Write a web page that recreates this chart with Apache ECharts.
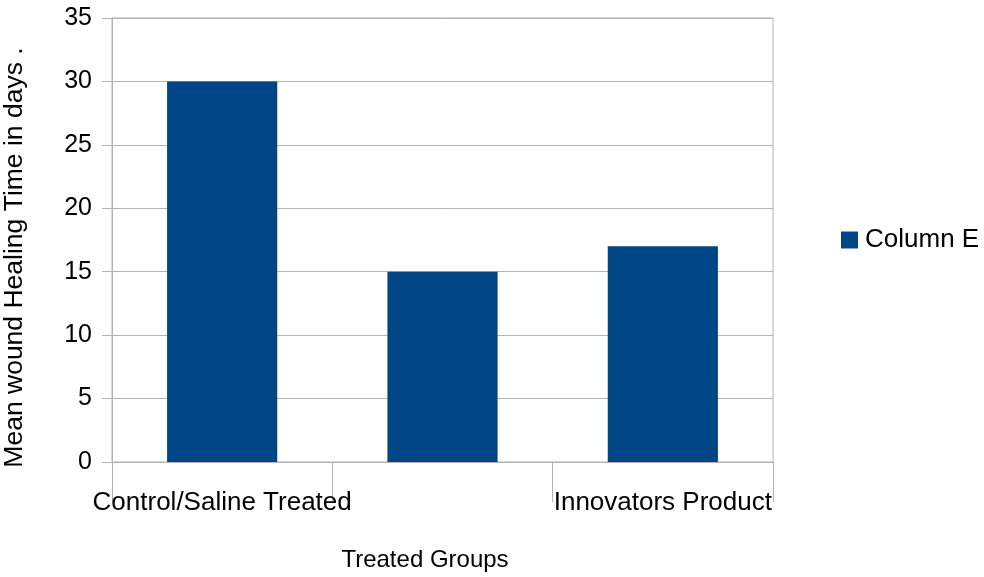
<!DOCTYPE html>
<html>
<head>
<meta charset="utf-8">
<script src="https://cdn.jsdelivr.net/npm/echarts@6/dist/echarts.min.js"></script>
<style>
  html, body { margin: 0; padding: 0; background: #ffffff; }
  #chart { width: 984px; height: 577px; }
</style>
</head>
<body>
<div id="chart"></div>
<script>
// Treated groups (the middle group's label is left blank)
const categories = ['Control/Saline Treated', '', 'Innovators Product'];
// Mean wound healing time, in days
const columnE = [30, 15, 17];
const seriesName = 'Column E';
const yMin = 0, yMax = 35, yStep = 5;

const font = 'Liberation Sans, Arial, sans-serif';
const grey = '#b3b3b3';

const chart = echarts.init(document.getElementById('chart'), null, { renderer: 'canvas' });
chart.setOption({
  animation: false,
  backgroundColor: '#ffffff',
  grid: {
    left: 112, right: 211, top: 18, bottom: 115,
    outerBoundsMode: 'none',
    containLabel: false,
    show: true, borderColor: grey, borderWidth: 1, backgroundColor: 'transparent'
  },
  legend: {
    data: [seriesName],
    orient: 'vertical',
    left: 836, top: 222,
    itemWidth: 17, itemHeight: 17, itemGap: 8,
    icon: 'rect',
    textStyle: { fontFamily: font, fontSize: 26, color: '#000000', padding: [0, 0, 0, 2] },
    padding: 5
  },
  xAxis: {
    type: 'category',
    data: categories,
    name: 'Treated Groups',
    nameLocation: 'middle',
    nameGap: 86,
    nameTextStyle: { fontFamily: font, fontSize: 24, color: '#000000', padding: [0, 35, 0, 0] },
    axisLine: { show: true, lineStyle: { color: grey, width: 1 } },
    axisTick: { show: true, length: 40, alignWithLabel: false, lineStyle: { color: grey } },
    axisLabel: { fontFamily: font, fontSize: 26, color: '#000000', margin: 28, interval: 0 }
  },
  yAxis: {
    type: 'value',
    min: yMin, max: yMax, interval: yStep,
    name: 'Mean wound Healing Time in days .',
    nameLocation: 'middle',
    nameRotate: 90,
    nameGap: 84,
    nameTextStyle: { fontFamily: font, fontSize: 26.5, color: '#000000', padding: [0, 35, 0, 0] },
    axisLine: { show: true, lineStyle: { color: grey, width: 1 } },
    axisTick: { show: true, length: 10, lineStyle: { color: grey } },
    axisLabel: { fontFamily: font, fontSize: 25, color: '#000000', margin: 20 },
    splitLine: { show: true, lineStyle: { color: grey, width: 1 } }
  },
  series: [{
    name: seriesName,
    type: 'bar',
    data: columnE,
    barWidth: '50%',
    itemStyle: { color: '#004586' }
  }]
});
</script>
</body>
</html>
